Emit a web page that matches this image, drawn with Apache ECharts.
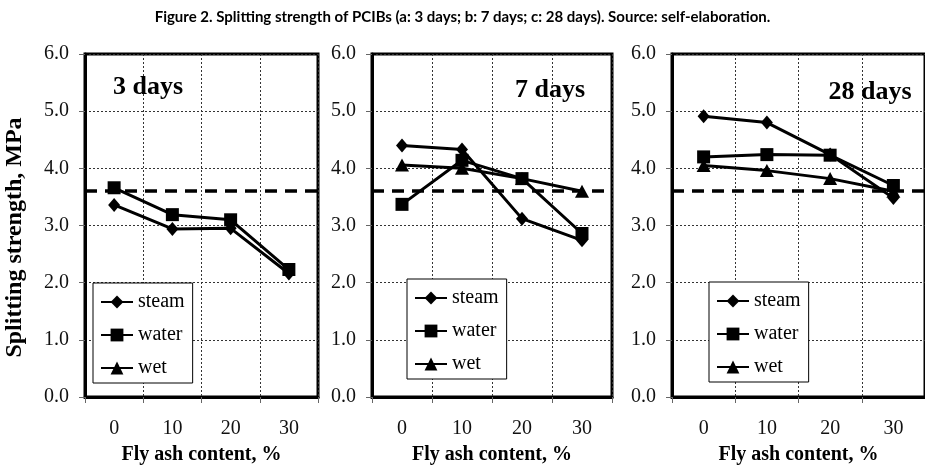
<!DOCTYPE html>
<html>
<head>
<meta charset="utf-8">
<script src="https://cdn.jsdelivr.net/npm/echarts@6/dist/echarts.min.js"></script>
<style>
html,body{margin:0;padding:0;background:#fff;}
#chart{width:925px;height:475px;}
</style>
</head>
<body>
<div id="chart"></div>
<script>
// ---- data ----
const categories = ['0', '10', '20', '30'];
const seriesNames = ['steam', 'water', 'wet'];
const panelLabels = ['3 days', '7 days', '28 days'];
const steam3 = [3.36, 2.94, 2.95, 2.16];
const water3 = [3.66, 3.19, 3.10, 2.23];
const steam7 = [4.40, 4.33, 3.12, 2.74];
const water7 = [3.37, 4.14, 3.82, 2.86];
const wet7 = [4.06, 4.00, 3.82, 3.60];
const steam28 = [4.91, 4.80, 4.24, 3.48];
const water28 = [4.20, 4.24, 4.23, 3.70];
const wet28 = [4.05, 3.96, 3.82, 3.60];
const refLine = 3.6;
const yMin = 0, yMax = 6, yStep = 1;
const titleBold = 'Figure 2.';
const titleRest = ' Splitting strength of PCIBs (a: 3 days; b: 7 days; c: 28 days). Source: self-elaboration.';
const xTitle = 'Fly ash content, %';
const yTitle = 'Splitting strength, MPa';

// ---- layout / style ----
const serif = '"Liberation Serif", "Times New Roman", serif';
const grids = [
  {left: 85, top: 54, width: 233, height: 343},
  {left: 372, top: 54, width: 240, height: 343},
  {left: 672, top: 54, width: 261, height: 343}
];
const legendPos = [
  {left: 93, top: 283},
  {left: 407, top: 279},
  {left: 709, top: 282}
];
const labelPos = [[148, 87], [550, 90], [870, 92]];
const panelData = [
  {steam: steam3, water: water3},
  {steam: steam7, water: water7, wet: wet7},
  {steam: steam28, water: water28, wet: wet28}
];
const symbols = {steam: 'diamond', water: 'rect', wet: 'triangle'};
const symbolSizes = {steam: [12, 14], water: [13, 13], wet: [14, 13]};

const xAxes = [], yAxes = [], series = [], legends = [], graphics = [];
grids.forEach((g, i) => {
  xAxes.push({
    type: 'category', gridIndex: i, data: categories, boundaryGap: true,
    name: xTitle, nameLocation: 'middle', nameGap: 48,
    nameTextStyle: {fontFamily: serif, fontWeight: 'bold', fontSize: 20, color: '#000'},
    axisLine: {show: true, lineStyle: {color: '#000', width: 3}},
    axisTick: {show: true, length: 6, lineStyle: {color: '#666', width: 1}},
    axisLabel: {fontFamily: serif, fontSize: 20, color: '#111', margin: 22},
    splitLine: {show: true, lineStyle: {color: '#333', width: 1, type: [2, 2]}}
  });
  yAxes.push({
    type: 'value', gridIndex: i, min: yMin, max: yMax, interval: yStep,
    name: i === 0 ? yTitle : '', nameLocation: 'middle', nameGap: 58, nameRotate: 90,
    nameTextStyle: {fontFamily: serif, fontWeight: 'bold', fontSize: 24, color: '#000',
      padding: [0, 24, 0, 0]},
    axisLine: {show: true, lineStyle: {color: '#000', width: 3}},
    axisTick: {show: true, length: 6, lineStyle: {color: '#666', width: 1}},
    axisLabel: {fontFamily: serif, fontSize: 20, color: '#111', margin: 16,
      formatter: v => v.toFixed(1)},
    splitLine: {show: true, lineStyle: {color: '#333', width: 1, type: [2, 2]}}
  });
  const pd = panelData[i];
  let first = true;
  seriesNames.forEach(name => {
    if (!pd[name]) return;
    const s = {
      type: 'line', name: name, xAxisIndex: i, yAxisIndex: i, data: pd[name],
      symbol: symbols[name], symbolSize: symbolSizes[name],
      lineStyle: {color: '#000', width: 3},
      itemStyle: {color: '#000'},
      animation: false
    };
    if (first) {
      s.markLine = {
        silent: true, symbol: 'none', label: {show: false},
        lineStyle: {color: '#000', width: 3.5, type: [12, 8]},
        data: [{yAxis: refLine}]
      };
      first = false;
    }
    series.push(s);
  });
  legends.push({
    orient: 'vertical', left: legendPos[i].left, top: legendPos[i].top,
    data: seriesNames, padding: [9, 8, 5, 7],
    itemWidth: 32, itemHeight: 16, itemGap: 13,
    borderColor: '#000', borderWidth: 1, backgroundColor: '#fff',
    textStyle: {fontFamily: serif, fontSize: 20, color: '#000'},
    selectedMode: false
  });
  graphics.push({
    type: 'text', x: labelPos[i][0], y: labelPos[i][1],
    style: {text: panelLabels[i], fontFamily: serif, fontWeight: 'bold', fontSize: 26,
      fill: '#000', textAlign: 'center', textVerticalAlign: 'middle'},
    z: 100
  });
});

const chart = echarts.init(document.getElementById('chart'), null, {renderer: 'canvas'});
chart.setOption({
  animation: false,
  backgroundColor: '#fff',
  title: {
    left: 'center', top: 5,
    text: '{b|' + titleBold + '}' + '{r|' + titleRest + '}',
    textStyle: {
      rich: {
        b: {fontFamily: 'Lato', fontWeight: 'bold', fontSize: 15, color: '#000'},
        r: {fontFamily: 'Lato', fontSize: 15, color: '#000'}
      }
    }
  },
  grid: grids.map(g => Object.assign({show: true, borderColor: '#000', borderWidth: 3, backgroundColor: 'transparent'}, g)),
  xAxis: xAxes,
  yAxis: yAxes,
  legend: legends,
  series: series,
  graphic: graphics
});
</script>
</body>
</html>
